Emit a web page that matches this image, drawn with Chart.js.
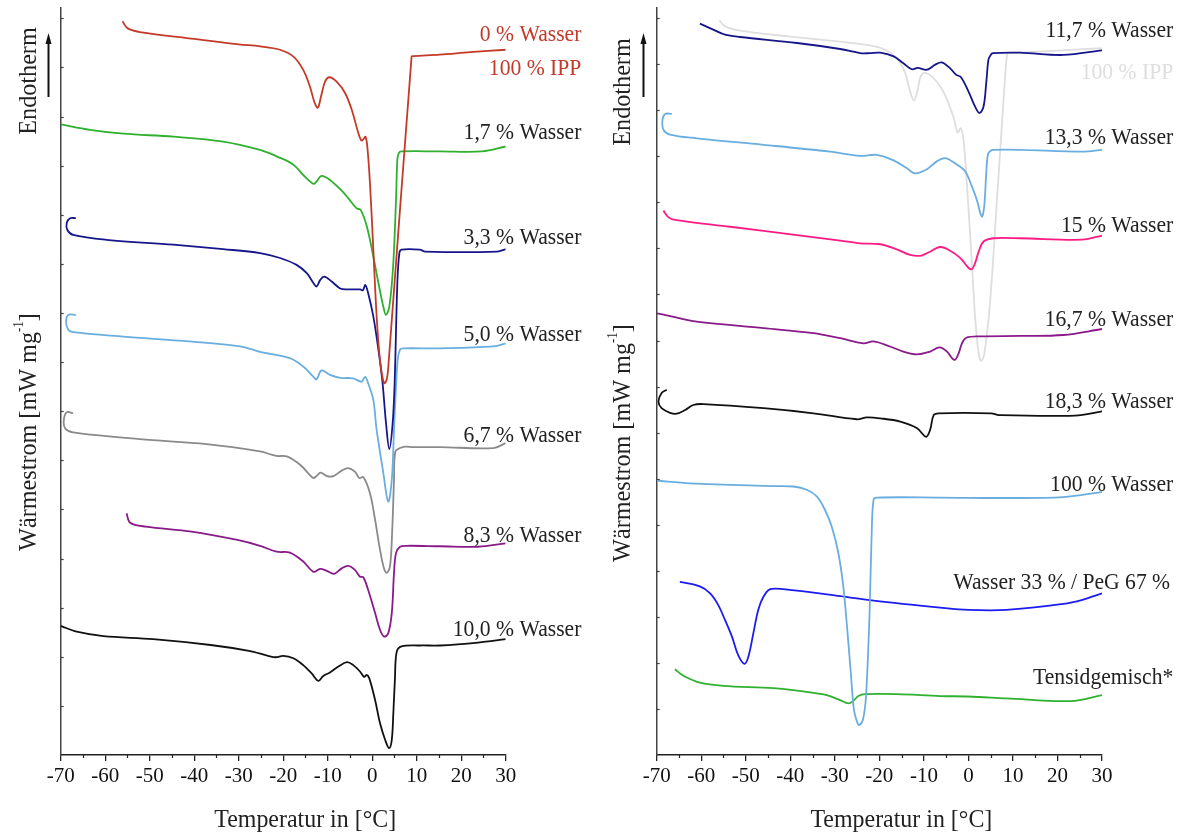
<!DOCTYPE html>
<html>
<head>
<meta charset="utf-8">
<script src="https://cdn.jsdelivr.net/npm/chart.js@4.4.1/dist/chart.umd.min.js"></script>
<style>
  html, body { margin: 0; padding: 0; background: #fff; }
  #wrap { position: relative; width: 1184px; height: 836px; }
  canvas { position: absolute; top: 0; }
  #left { left: 0; }
  #right { left: 592px; }
</style>
</head>
<body>
<div id="wrap">
  <canvas id="left" width="592" height="836" style="width:592px;height:836px"></canvas>
  <canvas id="right" width="592" height="836" style="width:592px;height:836px"></canvas>
</div>
<script>
const FONT = '"Liberation Serif", "Times New Roman", serif';

const ticksT = [-70, -60, -50, -40, -30, -20, -10, 0, 10, 20, 30];

// ---- left panel: IPP with 0 ... 10 % water ----
const ippT = [-56.1, -55.0, -52.2, -40, -30, -25.2, -20.7, -17.7, -15.5, -14.0, -12.9, -12.2, -11.5, -10.6, -9.6, -8.0, -6.1, -4.6, -3.1, -2.4, -1.8, -1.5, -1.1, -0.5, 0.25, 1.0, 1.75, 2.65, 3.25, 3.7, 8.85, 9.2, 15.2, 22, 30];
const ippQ = [14.94, 14.80, 14.72, 14.58, 14.47, 14.43, 14.36, 14.22, 13.95, 13.61, 13.27, 13.18, 13.41, 13.71, 13.80, 13.71, 13.48, 13.14, 12.66, 12.51, 12.56, 12.59, 12.39, 11.64, 10.29, 8.93, 8.04, 7.57, 7.64, 8.0, 14.22, 14.23, 14.26, 14.31, 14.36];

const w17T = [-70, -63.4, -55.9, -44.7, -33.5, -25.2, -21.5, -17.7, -15.5, -13.2, -12.5, -11.4, -9.5, -7.2, -5.4, -3.5, -2.6, -1.2, 0.25, 1.4, 2.5, 3.1, 3.85, 4.7, 5.35, 5.65, 6.0, 6.6, 15.2, 24.7, 30];
const w17Q = [12.84, 12.73, 12.65, 12.59, 12.49, 12.32, 12.19, 12.02, 11.81, 11.63, 11.68, 11.79, 11.71, 11.52, 11.34, 11.13, 11.10, 10.76, 10.15, 9.61, 9.13, 8.96, 9.13, 9.95, 11.30, 12.12, 12.26, 12.29, 12.29, 12.29, 12.39];

const w33T = [-66.6, -67.9, -68.65, -68.5, -67.2, -59.7, -44.7, -33.5, -25.2, -20.7, -17.0, -14.7, -13.2, -12.5, -11.7, -10.8, -9.1, -7.2, -5.7, -2.7, -2.1, -1.55, -0.9, 0.25, 1.4, 2.3, 3.1, 3.85, 4.6, 5.05, 5.65, 6.1, 6.6, 10.7, 11.9, 28.1, 30];
const w33Q = [10.93, 10.93, 10.83, 10.69, 10.59, 10.49, 10.39, 10.30, 10.22, 10.12, 9.98, 9.81, 9.61, 9.54, 9.67, 9.74, 9.64, 9.50, 9.48, 9.48, 9.46, 9.57, 9.40, 8.93, 8.25, 7.60, 6.76, 6.23, 6.76, 7.60, 9.61, 10.22, 10.29, 10.29, 10.25, 10.25, 10.30];

const w50T = [-66.6, -68.3, -68.8, -68.3, -67.2, -55.9, -41, -29.7, -25.2, -18.5, -15.5, -13.2, -12.5, -11.4, -9.5, -7.2, -4.25, -2.4, -1.6, -0.9, 0.25, 1.0, 2.5, 3.6, 4.4, 4.9, 5.4, 5.8, 6.3, 7.0, 15.2, 27.3, 30];
const w50Q = [8.96, 8.96, 8.82, 8.66, 8.61, 8.52, 8.42, 8.32, 8.21, 8.08, 7.91, 7.70, 7.65, 7.83, 7.74, 7.68, 7.67, 7.60, 7.70, 7.57, 7.23, 6.62, 5.74, 5.16, 5.60, 6.62, 7.60, 8.10, 8.26, 8.28, 8.28, 8.32, 8.38];

const w67T = [-67.2, -68.65, -69.3, -69.0, -67.2, -52.2, -37.2, -25.2, -21.5, -19.2, -16.2, -14.0, -13.2, -12.5, -11.6, -10.2, -8.7, -6.85, -5.4, -3.9, -2.9, -2.0, -0.5, 0.65, 1.75, 2.65, 3.25, 4.0, 4.5, 4.9, 5.2, 6.25, 7.4, 9.2, 15.2, 27.3, 30];
const w67Q = [6.96, 6.98, 6.82, 6.65, 6.57, 6.43, 6.33, 6.18, 6.09, 6.08, 5.91, 5.70, 5.64, 5.68, 5.75, 5.68, 5.68, 5.79, 5.84, 5.77, 5.64, 5.66, 5.33, 4.79, 4.18, 3.80, 3.71, 3.84, 4.58, 5.60, 6.18, 6.25, 6.28, 6.27, 6.27, 6.25, 6.35];

const w83T = [-55.2, -54.4, -50.9, -40.6, -30.3, -25.2, -21.5, -18.5, -15.5, -13.2, -11.7, -10.2, -8.6, -6.85, -5.4, -3.9, -2.75, -2.0, -0.9, 0.65, 1.75, 2.7, 3.6, 4.4, 4.9, 5.35, 6.25, 7.75, 15.2, 23.8, 30];
const w83Q = [4.92, 4.73, 4.65, 4.55, 4.38, 4.26, 4.14, 4.12, 3.94, 3.73, 3.79, 3.75, 3.69, 3.80, 3.85, 3.77, 3.63, 3.62, 3.36, 2.89, 2.55, 2.41, 2.48, 2.89, 3.70, 4.11, 4.24, 4.26, 4.25, 4.24, 4.31];

const w100T = [-70, -66.4, -60.4, -49.2, -36.3, -27.7, -23.4, -21.7, -20, -17.7, -15.5, -13.6, -12.1, -11.0, -9.5, -7.6, -5.7, -4.25, -2.75, -1.8, -1.25, -0.65, 0.65, 1.75, 2.9, 3.8, 4.4, 4.75, 5.1, 5.5, 6.6, 10.7, 15.2, 23.8, 30];
const w100Q = [2.63, 2.51, 2.42, 2.36, 2.24, 2.12, 2.02, 1.99, 2.02, 1.97, 1.83, 1.66, 1.51, 1.61, 1.68, 1.80, 1.89, 1.83, 1.70, 1.59, 1.63, 1.56, 1.12, 0.65, 0.31, 0.14, 0.31, 0.85, 1.53, 2.10, 2.21, 2.23, 2.23, 2.29, 2.36];

// ---- right panel: 11,7 ... 18,3 % water and references ----
const refIppT = [-55.9, -54.65, -51.3, -40, -28.8, -22.8, -19.1, -16.1, -14.2, -13.1, -12.2, -11.4, -10.8, -9.9, -8.2, -6.35, -4.8, -3.3, -2.45, -1.7, -1.1, -0.35, 0.6, 1.5, 2.3, 2.9, 3.6, 4.9, 6.4, 7.9, 8.65, 9.1, 11.6, 30];
const refIppQ = [15.95, 15.82, 15.73, 15.60, 15.49, 15.42, 15.33, 15.13, 14.81, 14.41, 14.21, 14.44, 14.72, 14.81, 14.73, 14.52, 14.23, 13.83, 13.52, 13.61, 13.36, 12.42, 10.97, 9.52, 8.72, 8.56, 8.72, 9.88, 12.05, 14.23, 15.20, 15.24, 15.25, 15.35];

const w117T = [-60.3, -57.3, -54.65, -51.3, -38.5, -28.8, -24.3, -22.1, -19.8, -16.8, -14.6, -12.7, -11.4, -9.3, -7.45, -6.0, -4.1, -2.75, -1.7, 0.0, 1.5, 2.5, 3.4, 4.0, 4.5, 5.0, 5.5, 11.6, 21.3, 30];
const w117Q = [15.88, 15.75, 15.64, 15.59, 15.46, 15.33, 15.24, 15.24, 15.25, 15.17, 15.02, 14.89, 14.92, 14.88, 14.99, 15.04, 14.91, 14.77, 14.72, 14.41, 14.08, 13.94, 14.08, 14.59, 15.10, 15.20, 15.24, 15.25, 15.20, 15.30];

const w133T = [-66.6, -68.1, -68.7, -68.5, -67.0, -61.0, -46.0, -31.05, -24.3, -20.6, -16.8, -13.8, -12.0, -9.3, -7.1, -5.2, -2.6, -0.7, 0.8, 1.9, 3.0, 3.55, 4.0, 4.4, 5.0, 5.65, 11.6, 25.6, 30];
const w133Q = [13.92, 13.92, 13.79, 13.58, 13.47, 13.39, 13.25, 13.10, 13.01, 13.03, 12.91, 12.74, 12.63, 12.72, 12.89, 12.96, 12.82, 12.67, 12.34, 12.05, 11.69, 11.91, 12.63, 13.05, 13.12, 13.14, 13.14, 13.10, 13.14];

const w150T = [-68.5, -67.4, -65.9, -53.5, -38.5, -28.8, -24.3, -19.8, -16.1, -13.1, -10.8, -9.0, -6.35, -4.1, -1.8, 0.0, 0.8, 1.5, 2.3, 3.4, 5.65, 11.6, 25.6, 30];
const w150Q = [11.82, 11.68, 11.62, 11.47, 11.29, 11.17, 11.11, 11.09, 10.98, 10.86, 10.84, 10.91, 11.03, 10.95, 10.79, 10.58, 10.55, 10.68, 10.93, 11.15, 11.22, 11.22, 11.19, 11.28];

const w167T = [-69.9, -67.0, -61.0, -46.0, -34.8, -28.8, -23.6, -21.3, -17.6, -14.6, -11.6, -8.6, -6.5, -4.8, -3.7, -3.0, -2.2, -1.45, -0.5, 2.65, 11.6, 21.3, 30];
const w167Q = [9.59, 9.53, 9.41, 9.27, 9.16, 9.05, 8.94, 8.98, 8.87, 8.76, 8.70, 8.76, 8.85, 8.76, 8.62, 8.58, 8.72, 8.94, 9.06, 9.09, 9.10, 9.12, 9.25];

const w183T = [-67.75, -68.9, -69.6, -68.9, -67.0, -65.5, -63.6, -61.8, -59.5, -46.0, -34.8, -25.1, -22.8, -19.8, -15.3, -11.6, -9.5, -8.6, -7.8, -6.7, 5.1, 6.85, 23.9, 30];
const w183Q = [7.93, 7.86, 7.67, 7.53, 7.43, 7.41, 7.49, 7.60, 7.62, 7.53, 7.42, 7.29, 7.33, 7.31, 7.24, 7.10, 6.91, 7.06, 7.38, 7.42, 7.42, 7.38, 7.37, 7.46];

const waterT = [-70, -62.5, -43.8, -39.3, -36.3, -34.0, -32.2, -30.7, -29.2, -28.1, -27.2, -26.4, -25.7, -24.9, -24.5, -23.7, -23.0, -22.2, -21.7, -21.3, -20.6, -6.35, 7.7, 21.3, 30];
const waterQ = [5.96, 5.90, 5.84, 5.83, 5.76, 5.61, 5.32, 4.96, 4.38, 3.66, 2.72, 1.77, 0.98, 0.69, 0.65, 0.76, 1.27, 3.08, 4.89, 5.54, 5.59, 5.59, 5.58, 5.60, 5.71];

const pegT = [-64.8, -60.3, -58.0, -56.2, -54.65, -53.1, -51.7, -50.3, -49.4, -48.3, -47.2, -46.0, -44.5, -41.55, -28.8, -21.3, -6.35, 0.0, 8.5, 21.3, 25.6, 30];
const pegQ = [3.76, 3.66, 3.51, 3.26, 2.93, 2.57, 2.17, 1.98, 2.14, 2.64, 3.15, 3.44, 3.60, 3.60, 3.45, 3.35, 3.20, 3.15, 3.15, 3.28, 3.37, 3.51];

const tensidT = [-65.9, -64.0, -60.3, -55.0, -43.8, -36.3, -31.8, -28.8, -26.95, -25.8, -24.7, -23.2, -16.1, -6.35, 0.0, 8.5, 23.0, 30];
const tensidQ = [1.86, 1.72, 1.57, 1.50, 1.45, 1.37, 1.30, 1.19, 1.12, 1.18, 1.28, 1.32, 1.32, 1.28, 1.27, 1.23, 1.17, 1.30];

const leftNames = ['0 % Wasser', '100 % IPP', '1,7 % Wasser', '3,3 % Wasser', '5,0 % Wasser', '6,7 % Wasser', '8,3 % Wasser', '10,0 % Wasser'];
const rightNames = ['11,7 % Wasser', '100 % IPP', '13,3 % Wasser', '15 % Wasser', '16,7 % Wasser', '18,3 % Wasser', '100 % Wasser', 'Wasser 33 % / PeG 67 %', 'Tensidgemisch*'];

const RED = '#c43a28', GREEN = '#2fb12f', NAVY = '#16168a', SKY = '#6aaee0',
      GREY = '#8a8a8a', PURPLE = '#8a1a8a', BLACK = '#111111', PINK = '#ff1a84',
      BLUE = '#1c1cf2', PALE = '#dedede', INK = '#222222';

function curve(t, q, color) {
  return {
    data: t.map((v, i) => ({ x: v, y: q[i] })),
    borderColor: color,
    borderWidth: 1.8,
    pointRadius: 0,
    tension: 0.35,
    fill: false
  };
}

function condensed(ctx, text, x, y, size, color, align, sx) {
  ctx.save();
  ctx.font = size + 'px ' + FONT;
  ctx.fillStyle = color;
  ctx.textBaseline = 'alphabetic';
  const w = ctx.measureText(text).width * sx;
  const x0 = align === 'right' ? x - w : align === 'center' ? x - w / 2 : x;
  ctx.translate(x0, y);
  ctx.scale(sx, 1);
  ctx.fillText(text, 0, 0);
  ctx.restore();
}

// Rotated axis texts, the arrow, minor ticks and the curve names
const decor = {
  id: 'decor',
  afterDraw(chart, args, opts) {
    const { ctx, chartArea: area, scales: { x, y } } = chart;
    ctx.save();

    // inward ticks on the heat-flow axis
    ctx.strokeStyle = '#444';
    ctx.lineWidth = 1.2;
    for (let v = 1; v <= Math.floor(y.max); v++) {
      const py = Math.round(y.getPixelForValue(v)) + 0.5;
      ctx.beginPath();
      ctx.moveTo(area.left, py);
      ctx.lineTo(area.left + 3, py);
      ctx.stroke();
    }
    // minor ticks between the temperature labels
    ctx.strokeStyle = '#222';
    for (let t = x.min + 5; t < x.max; t += 10) {
      const px = Math.round(x.getPixelForValue(t)) + 0.5;
      ctx.beginPath();
      ctx.moveTo(px, area.bottom);
      ctx.lineTo(px, area.bottom + 3);
      ctx.stroke();
    }

    // curve names at the right end
    opts.names.forEach(n => {
      const px = x.getPixelForValue(n.edge ?? opts.edge);
      const py = y.getPixelForValue(n.at) + 7.6;
      condensed(ctx, n.text, px, py, 23, n.color || INK, 'right', 0.94);
    });

    // x title
    condensed(ctx, 'Temperatur in [°C]', (area.left + area.right) / 2 + 22, 827, 26, INK, 'center', 0.92);

    // y title with superscript
    const cx = area.left - opts.side;
    ctx.save();
    ctx.translate(cx, opts.titleY);
    ctx.rotate(-Math.PI / 2);
    ctx.scale(0.93, 1);
    ctx.fillStyle = INK;
    ctx.textBaseline = 'alphabetic';
    ctx.font = '26px ' + FONT;
    const a = 'Wärmestrom [mW mg', c = ']';
    const wa = ctx.measureText(a).width, wc = ctx.measureText(c).width;
    ctx.font = '14px ' + FONT;
    const wb = ctx.measureText('-1').width;
    const x0 = -(wa + wb + wc) / 2;
    ctx.fillText('-1', x0 + wa, -4);
    ctx.font = '26px ' + FONT;
    ctx.fillText(a, x0, 9);
    ctx.fillText(c, x0 + wa + wb, 9);
    ctx.restore();

    // Endotherm with upward arrow
    ctx.save();
    ctx.translate(cx, opts.endoY);
    ctx.rotate(-Math.PI / 2);
    ctx.scale(0.93, 1);
    ctx.fillStyle = INK;
    ctx.font = '26px ' + FONT;
    ctx.textAlign = 'center';
    ctx.fillText('Endotherm', 0, 9);
    ctx.restore();

    const ax = Math.round(area.left - opts.arrow) + 0.5;
    ctx.strokeStyle = '#111';
    ctx.fillStyle = '#111';
    ctx.lineWidth = 2;
    ctx.beginPath();
    ctx.moveTo(ax, 97);
    ctx.lineTo(ax, 42);
    ctx.stroke();
    ctx.beginPath();
    ctx.moveTo(ax, 33);
    ctx.lineTo(ax - 3, 44);
    ctx.lineTo(ax + 3, 44);
    ctx.closePath();
    ctx.fill();

    ctx.restore();
  }
};

function dscChart(id, datasets, yMax, padding, deco) {
  return new Chart(document.getElementById(id), {
    type: 'line',
    data: { datasets },
    options: {
      responsive: false,
      animation: false,
      layout: { padding },
      plugins: {
        legend: { display: false },
        tooltip: { enabled: false },
        decor: deco
      },
      scales: {
        x: {
          type: 'linear',
          min: -70,
          max: 30,
          afterBuildTicks: s => { s.ticks = ticksT.map(v => ({ value: v })); },
          ticks: { font: { family: FONT, size: 21 }, color: '#111', padding: 3, maxRotation: 0, autoSkip: false },
          grid: { drawOnChartArea: false, tickLength: 6, color: '#222', lineWidth: 1.3 },
          border: { color: '#222', width: 1.5 },
          afterFit: s => { s.height = 81; }
        },
        y: {
          type: 'linear',
          min: 0,
          max: yMax,
          ticks: { display: false },
          grid: { display: false },
          border: { color: '#444', width: 1.5 },
          afterFit: s => { s.width = 0; }
        }
      }
    },
    plugins: [decor]
  });
}

dscChart('left', [
  curve(ippT, ippQ, RED),
  curve(w17T, w17Q, GREEN),
  curve(w33T, w33Q, NAVY),
  curve(w50T, w50Q, SKY),
  curve(w67T, w67Q, GREY),
  curve(w83T, w83Q, PURPLE),
  curve(w100T, w100Q, BLACK)
], 15.21, { left: 60.7, right: 86.3, top: 8, bottom: 0 }, {
  edge: 47.0, side: 34, arrow: 13, endoY: 81, titleY: 432,
  names: [
    { text: leftNames[0], at: 14.70, color: RED },
    { text: leftNames[1], at: 14.01, color: RED },
    { text: leftNames[2], at: 12.69 },
    { text: leftNames[3], at: 10.56 },
    { text: leftNames[4], at: 8.59 },
    { text: leftNames[5], at: 6.52 },
    { text: leftNames[6], at: 4.49 },
    { text: leftNames[7], at: 2.58 }
  ]
});

dscChart('right', [
  curve(w117T, w117Q, NAVY),
  curve(w133T, w133Q, SKY),
  curve(w150T, w150Q, PINK),
  curve(w167T, w167Q, PURPLE),
  curve(w183T, w183Q, BLACK),
  curve(waterT, waterQ, SKY),
  curve(pegT, pegQ, BLUE),
  curve(tensidT, tensidQ, GREEN),
  curve(refIppT, refIppQ, PALE)
], 16.22, { left: 64.7, right: 82, top: 8, bottom: 0 }, {
  edge: 46.0, side: 36, arrow: 14, endoY: 92, titleY: 443,
  names: [
    { text: rightNames[0], at: 15.76 },
    { text: rightNames[1], at: 14.84, color: PALE },
    { text: rightNames[2], at: 13.43 },
    { text: rightNames[3], at: 11.53 },
    { text: rightNames[4], at: 9.49 },
    { text: rightNames[5], at: 7.69 },
    { text: rightNames[6], at: 5.89 },
    { text: rightNames[7], at: 3.76, edge: 45.3 },
    { text: rightNames[8], at: 1.70 }
  ]
});
</script>
</body>
</html>
